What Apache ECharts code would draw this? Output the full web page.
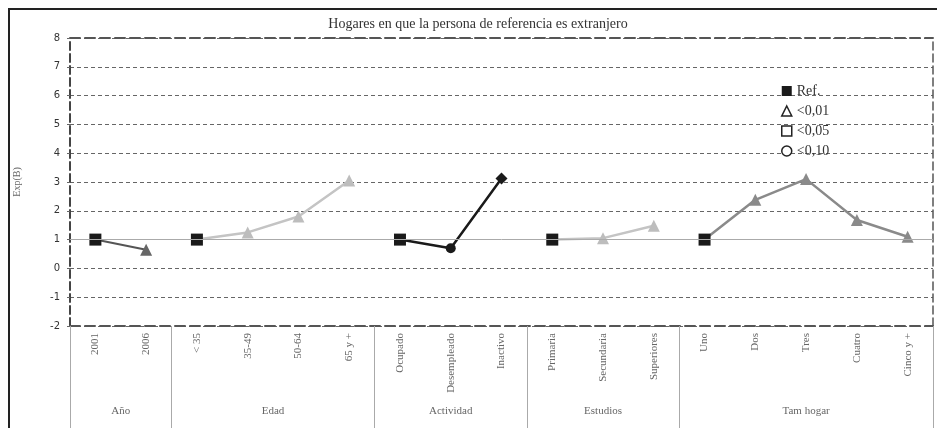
<!DOCTYPE html>
<html>
<head>
<meta charset="utf-8">
<script src="https://cdn.jsdelivr.net/npm/echarts@6/dist/echarts.min.js"></script>
<style>
  html, body { margin: 0; padding: 0; background: #fff; }
  #chart { width: 937px; height: 428px; }
</style>
</head>
<body>
<div id="chart"></div>
<script>
// categories
const categories = ['2001', '2006', '< 35', '35-49', '50-64', '65 y +', 'Ocupado', 'Desempleado', 'Inactivo',
    'Primaria', 'Secundaria', 'Superiores', 'Uno', 'Dos', 'Tres', 'Cuatro', 'Cinco y +']
const groupNames = ['Año', 'Edad', 'Actividad', 'Estudios', 'Tam hogar']
const groupSizes = [2, 4, 3, 3, 5]

// Exp(B) values per group (first one is the reference)
const anoValues = [1, 0.65]
const edadValues = [1, 1.25, 1.8, 3.05]
const actividadValues = [1, 0.7, 3.12]
const estudiosValues = [1, 1.05, 1.48]
const tamHogarValues = [1, 2.38, 3.1, 1.68, 1.1]

// symbols of each point (significance)
const anoSymbols = ['rect', 'triangle']
const edadSymbols = ['rect', 'triangle', 'triangle', 'triangle']
const actividadSymbols = ['rect', 'circle', 'diamond']
const estudiosSymbols = ['rect', 'triangle', 'triangle']
const tamHogarSymbols = ['rect', 'triangle', 'triangle', 'triangle', 'triangle']

const yTicks = [-2, -1, 0, 1, 2, 3, 4, 5, 6, 7, 8]

const serif = '"Liberation Serif", "DejaVu Serif", serif'

// build a full-length series array, nulls outside the group
function groupData(groupIndex, values, symbols, color) {
    let start = 0
    for (let i = 0; i < groupIndex; i++) start += groupSizes[i]
    const out = categories.map(() => null)
    values.forEach((v, i) => {
        const isRef = symbols[i] === 'rect'
        out[start + i] = {
            value: v,
            symbol: symbols[i],
            symbolSize: isRef ? 12 : (symbols[i] === 'circle' ? 10 : 12),
            itemStyle: { color: isRef ? '#1a1a1a' : color }
        }
    })
    return out
}

function lineSeries(name, data, color, width) {
    return {
        name: name,
        type: 'line',
        data: data,
        connectNulls: false,
        lineStyle: { color: color, width: width },
        itemStyle: { color: color },
        z: 3
    }
}

// group boundaries and centres on the 0..17 helper axis
const boundaries = [0]
const centres = []
groupSizes.forEach((s, i) => {
    const b = boundaries[i]
    boundaries.push(b + s)
    centres.push(b + s / 2)
})

const chart = echarts.init(document.getElementById('chart'))

const option = {
    backgroundColor: '#fff',
    animation: false,
    title: {
        text: 'Hogares en que la persona de referencia es extranjero',
        left: 473,
        textAlign: 'center',
        top: 12,
        textStyle: { fontFamily: serif, fontSize: 14, fontWeight: 'normal', color: '#333' }
    },
    graphic: [
        {
            type: 'rect',
            shape: { x: 9, y: 9, width: 940, height: 430 },
            style: { fill: 'none', stroke: '#222', lineWidth: 2 },
            silent: true
        }
    ],
    legend: {
        orient: 'vertical',
        left: 776,
        top: 79,
        itemWidth: 10,
        itemHeight: 10,
        itemGap: 6,
        textStyle: { fontFamily: serif, fontSize: 14, color: '#333' },
        data: [
            { name: 'Ref.', icon: 'rect', itemStyle: { color: '#1a1a1a', borderWidth: 0 } },
            { name: '<0,01', icon: 'triangle', itemStyle: { color: '#fff', borderColor: '#222', borderWidth: 1.5 } },
            { name: '<0,05', icon: 'rect', itemStyle: { color: '#fff', borderColor: '#222', borderWidth: 1.5 } },
            { name: '<0,10', icon: 'circle', itemStyle: { color: '#fff', borderColor: '#222', borderWidth: 1.5 } }
        ]
    },
    grid: { left: 70, right: 4, top: 38, bottom: 102 },
    xAxis: [
        {
            type: 'category',
            data: categories,
            boundaryGap: true,
            position: 'bottom',
            axisLine: { onZero: false, lineStyle: { color: '#555', width: 2, type: [10, 5] } },
            axisTick: { show: false },
            axisLabel: {
                interval: 0,
                rotate: 90,
                margin: 7,
                fontFamily: serif,
                fontSize: 11,
                color: '#666'
            }
        },
        {
            type: 'value',
            min: 0,
            max: 17,
            position: 'bottom',
            axisLine: { show: false, onZero: false },
            splitLine: { show: false },
            axisTick: {
                show: true,
                customValues: boundaries,
                length: 104,
                lineStyle: { color: '#aaa', width: 1 }
            },
            axisLabel: {
                customValues: centres,
                margin: 80,
                fontFamily: serif,
                fontSize: 11,
                color: '#666',
                formatter: (v) => {
                    const i = centres.indexOf(v)
                    return i >= 0 ? groupNames[i] : ''
                }
            }
        },
        {
            type: 'category',
            data: categories,
            position: 'top',
            axisLine: { onZero: false, lineStyle: { color: '#555', width: 2, type: [10, 5] } },
            axisTick: { show: false },
            axisLabel: { show: false }
        }
    ],
    yAxis: [
        {
            type: 'value',
            min: yTicks[0],
            max: yTicks[yTicks.length - 1],
            interval: 1,
            name: 'Exp(B)',
            nameLocation: 'middle',
            nameGap: 48,
            nameTextStyle: { fontFamily: serif, fontSize: 10, color: '#666' },
            axisLine: { show: true, onZero: false, lineStyle: { color: '#444', width: 2, type: [8, 4] } },
            axisTick: { show: true, length: 3, lineStyle: { color: '#666' } },
            axisLabel: { fontFamily: '"DejaVu Sans", sans-serif', fontSize: 10, color: '#333', margin: 10 },
            splitLine: { show: true, lineStyle: { color: '#666', width: 1, type: [4, 3] } }
        },
        {
            type: 'value',
            min: yTicks[0],
            max: yTicks[yTicks.length - 1],
            interval: 1,
            position: 'right',
            axisLine: { show: true, onZero: false, lineStyle: { color: '#555', width: 1.5, type: [8, 4] } },
            axisTick: { show: false },
            axisLabel: { show: false },
            splitLine: { show: false }
        }
    ],
    series: [
        {
            name: 'ref-line',
            type: 'line',
            data: [],
            silent: true,
            markLine: {
                symbol: 'none',
                silent: true,
                label: { show: false },
                lineStyle: { color: '#aaa', width: 1, type: 'solid' },
                data: [{ yAxis: 1 }]
            },
            z: 2
        },
        lineSeries('Año', groupData(0, anoValues, anoSymbols, '#666'), '#555', 2),
        lineSeries('Edad', groupData(1, edadValues, edadSymbols, '#bdbdbd'), '#c4c4c4', 2.5),
        lineSeries('Actividad', groupData(2, actividadValues, actividadSymbols, '#1a1a1a'), '#1a1a1a', 2.5),
        lineSeries('Estudios', groupData(3, estudiosValues, estudiosSymbols, '#bdbdbd'), '#c4c4c4', 2.5),
        lineSeries('Tam hogar', groupData(4, tamHogarValues, tamHogarSymbols, '#8a8a8a'), '#8a8a8a', 2.5),
        { name: 'Ref.', type: 'line', data: [] },
        { name: '<0,01', type: 'line', data: [] },
        { name: '<0,05', type: 'line', data: [] },
        { name: '<0,10', type: 'line', data: [] }
    ]
}

chart.setOption(option)
</script>
</body>
</html>
